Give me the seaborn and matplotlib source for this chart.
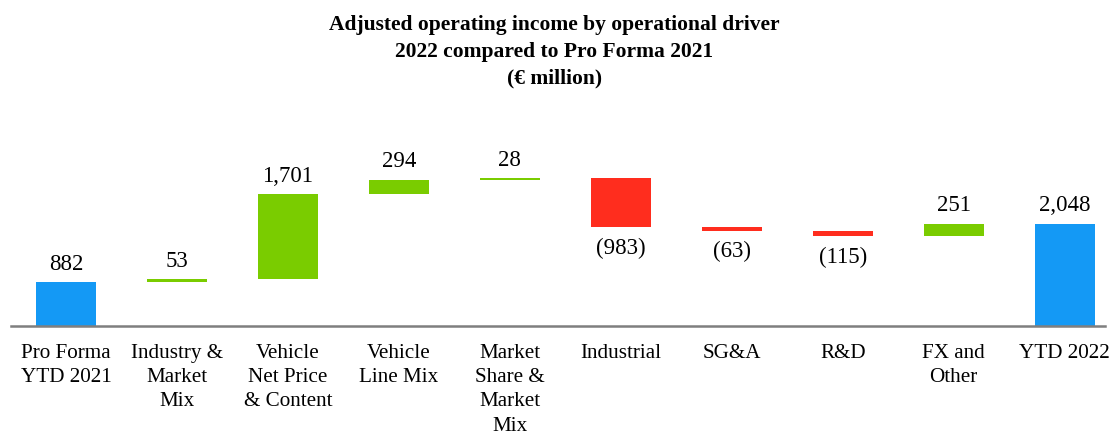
import numpy as np
import pandas as pd
import matplotlib as mpl
mpl.use('Agg')
import matplotlib.pyplot as plt
import seaborn as sns

################################################################################
# DATA
################################################################################

labels = ['Pro Forma\nYTD 2021', 'Industry &\nMarket\nMix', 'Vehicle\nNet Price\n& Content',
          'Vehicle\nLine Mix', 'Market\nShare &\nMarket\nMix', 'Industrial', 'SG&A', 'R&D',
          'FX and\nOther', 'YTD 2022']
values = [882, 53, 1701, 294, 28, -983, -63, -115, 251, 2048]
is_total = [True, False, False, False, False, False, False, False, False, True]
value_text = ['882', '53', '1,701', '294', '28', '(983)', '(63)', '(115)', '251', '2,048']

BLUE = '#1499F5'
GREEN = '#7ACC00'
RED = '#FF2D1E'

################################################################################
# WATERFALL GEOMETRY
################################################################################

bottoms = []
running = 0
for v, total in zip(values, is_total):
    if total:
        bottoms.append(0)
        running = v
    else:
        bottoms.append(running)
        running += v
bottoms = np.array(bottoms, dtype=float)
heights = np.array(values, dtype=float)
colors = [BLUE if t else (GREEN if v >= 0 else RED) for v, t in zip(values, is_total)]

df = pd.DataFrame({'label': labels, 'height': heights, 'bottom': bottoms})

################################################################################
# PLOT
################################################################################

sns.set_theme(style='white')
plt.rcParams['font.family'] = ['Liberation Serif', 'DejaVu Serif']
plt.rcParams['text.color'] = 'black'
plt.rcParams['xtick.color'] = 'black'

fig = plt.figure(figsize=(11.09, 4.35), dpi=100)
ax = fig.add_axes([0.0095, 0.2483, 0.9865, 0.459])

sns.barplot(data=df, x='label', y='height', bottom=df['bottom'].values,
            width=0.54, ax=ax, color=BLUE, saturation=1)
for patch, c in zip(ax.patches, colors):
    patch.set_facecolor(c)
    patch.set_edgecolor('none')

for i, (b, h, txt) in enumerate(zip(bottoms, heights, value_text)):
    if h >= 0:
        ax.annotate(txt, (i, b + h), xytext=(0, 6), textcoords='offset points',
                    ha='center', va='bottom', fontsize=16.5, color='black')
    else:
        ax.annotate(txt, (i, b + h), xytext=(0, -7), textcoords='offset points',
                    ha='center', va='top', fontsize=16.5, color='black')

ax.set_xlim(-0.5, 9.36)
ax.set_ylim(0, 4000)
ax.set_xlabel('')
ax.set_ylabel('')
ax.set_yticks([])
ax.tick_params(axis='x', length=0, pad=12, labelsize=15.2, labelcolor='black')
for lab in ax.get_xticklabels():
    lab.set_linespacing(1.38)
for side in ['top', 'right', 'left']:
    ax.spines[side].set_visible(False)
ax.spines['bottom'].set_color('#7F7F7F')
ax.spines['bottom'].set_linewidth(1.8)

fig.text(0.5, 0.965, 'Adjusted operating income by operational driver\n'
         '2022 compared to Pro Forma 2021\n(€ million)',
         ha='center', va='top', fontsize=15.5, fontweight='bold', linespacing=1.45,
         color='black')

fig.savefig('out.png', dpi=100)
